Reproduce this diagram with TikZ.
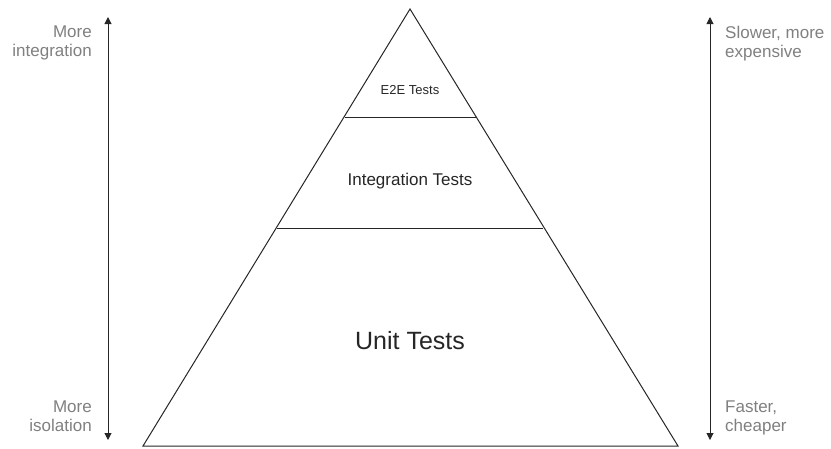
\documentclass[tikz,border=0pt]{standalone}
\usepackage{fontspec}
\setmainfont{Liberation Sans}
\usetikzlibrary{arrows.meta}
\definecolor{lbl}{HTML}{808080}
\tikzset{
  edge/.style={line width=1pt, draw=black!85},
  axis/.style={line width=1pt, draw=black!85, {Triangle[length=7pt,width=7pt]}-{Triangle[length=7pt,width=7pt]}},
  side/.style={text=lbl, font=\fontsize{17}{19}\selectfont, align=left, anchor=north west, inner sep=0pt},
  sideR/.style={text=lbl, font=\fontsize{17}{19}\selectfont, align=right, anchor=north east, inner sep=0pt},
  lvl/.style={text=black!85, inner sep=0pt}
}
\begin{document}
\begin{tikzpicture}[x=1pt,y=-1pt]
\useasboundingbox (0,0) rectangle (831,448);
\coordinate (apex) at (410,9);
\coordinate (bl) at (143,446);
\coordinate (br) at (678,446);
\coordinate (e2el) at (345,117);
\coordinate (e2er) at (476,117);
\coordinate (intl) at (277,228);
\coordinate (intr) at (543,228);
\draw[edge, line join=miter] (apex) -- (bl) -- (br) -- cycle;
\draw[edge] (e2el) -- (e2er);
\draw[edge] (intl) -- (intr);
\node[lvl, font=\fontsize{13}{15}\selectfont] (e2e) at (410,90) {E2E Tests};
\node[lvl, font=\fontsize{17}{19}\selectfont] (integ) at (410,181) {Integration Tests};
\node[lvl, font=\fontsize{25}{28}\selectfont] (unit) at (410,341) {Unit Tests};
\coordinate (lt) at (108,17);
\coordinate (lb) at (108,440);
\coordinate (rt) at (710,17);
\coordinate (rb) at (710,440);
\draw[axis] (lb) -- (lt);
\draw[axis] (rb) -- (rt);
\node[sideR] (mi) at (92,26) {More\\integration};
\node[sideR] (mis) at (92,401) {More\\isolation};
\node[side] (sl) at (725,26) {Slower, more\\expensive};
\node[side] (fa) at (725,401) {Faster,\\cheaper};
\end{tikzpicture}
\end{document}
